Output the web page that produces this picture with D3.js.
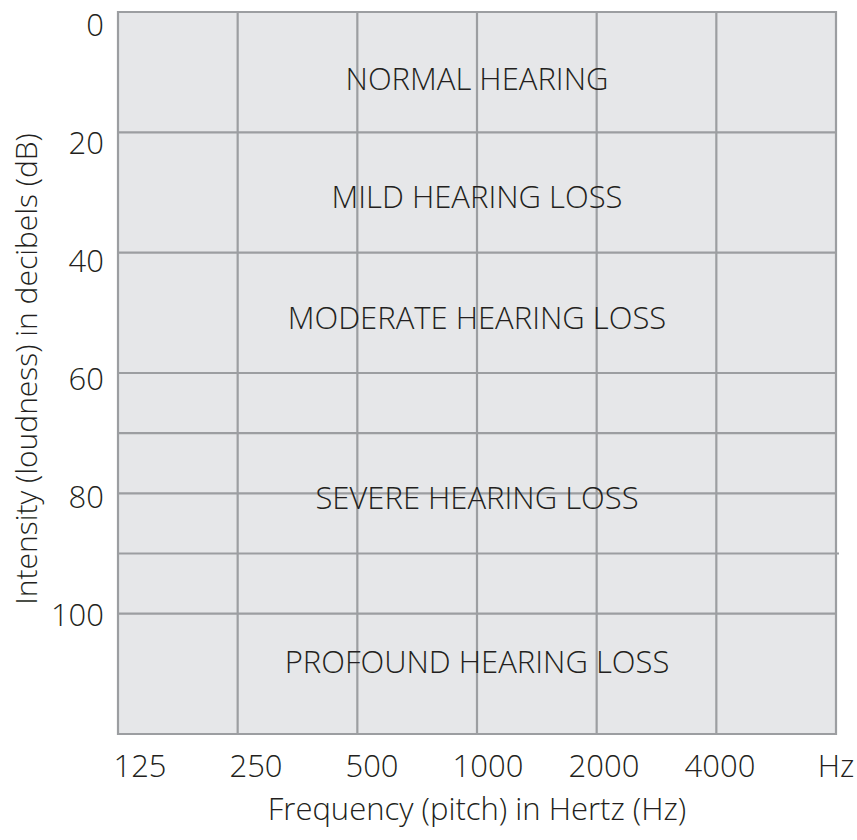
<!DOCTYPE html>
<html>
<head>
<meta charset="utf-8">
<script src="https://cdn.jsdelivr.net/npm/d3@7"></script>
<style>
  html, body { margin: 0; padding: 0; background: #ffffff; }
  svg { display: block; }
  text { font-family: "Open Sans", "Noto Sans", sans-serif; fill: #231f20; font-weight: 300; }
</style>
</head>
<body>
<svg id="chart" width="857" height="840"></svg>
<script>
// ---- data ----
const gridFrequencies = [125, 250, 500, 1000, 2000, 4000, 8000];
const freqTickLabels = ["125", "250", "500", "1000", "2000", "4000", "Hz"];
const gridDecibels = [0, 20, 40, 60, 70, 80, 90, 100, 120];
const dbTickValues = [0, 20, 40, 60, 80, 100];
const bandNames = ["NORMAL HEARING", "MILD HEARING LOSS", "MODERATE HEARING LOSS", "SEVERE HEARING LOSS", "PROFOUND HEARING LOSS"];
const bandLabelDb = [11, 30.6, 50.7, 80.6, 107.8];
const xTitle = "Frequency (pitch) in Hertz (Hz)";
const yTitle = "Intensity (loudness) in decibels (dB)";

// ---- layout ----
const plotLeft = 118, plotRight = 836, plotTop = 12, plotBottom = 734;
const svg = d3.select("#chart");

const x = d3.scaleLog().base(2).domain([125, 8000]).range([plotLeft, plotRight]);
const y = d3.scaleLinear().domain([0, 120]).range([plotTop, plotBottom]);
const xLabel = d3.scalePoint().domain(freqTickLabels).range([140, 836]);
const yLabel = d3.scaleLinear().domain([0, 100]).range([24, 614]);

const gridColor = "#9c9ea1";
const fontSize = 31;

// background
svg.append("rect")
  .attr("x", x(125)).attr("y", y(0))
  .attr("width", x(8000) - x(125)).attr("height", y(120) - y(0))
  .attr("fill", "#e6e7e9");

// horizontal gridlines
svg.append("g").selectAll("line").data(gridDecibels).join("line")
  .attr("x1", x(125))
  .attr("x2", d => d === 90 ? x(8000) + 3 : x(8000))
  .attr("y1", d => y(d)).attr("y2", d => y(d))
  .attr("stroke", gridColor).attr("stroke-width", 2.2);

// vertical gridlines
svg.append("g").selectAll("line").data(gridFrequencies).join("line")
  .attr("x1", d => x(d)).attr("x2", d => x(d))
  .attr("y1", y(0) - 1.1).attr("y2", y(120) + 1.1)
  .attr("stroke", gridColor).attr("stroke-width", 2.2);

// band labels
svg.append("g").selectAll("text").data(bandNames).join("text")
  .attr("x", (plotLeft + plotRight) / 2)
  .attr("y", (d, i) => y(bandLabelDb[i]))
  .attr("text-anchor", "middle")
  .attr("dominant-baseline", "central")
  .attr("font-size", fontSize)
  .text(d => d);

// y tick labels
svg.append("g").selectAll("text").data(dbTickValues).join("text")
  .attr("x", 104)
  .attr("y", d => yLabel(d))
  .attr("text-anchor", "end")
  .attr("dominant-baseline", "central")
  .attr("font-size", fontSize)
  .text(d => d);

// x tick labels
svg.append("g").selectAll("text").data(freqTickLabels).join("text")
  .attr("x", d => xLabel(d))
  .attr("y", 765)
  .attr("text-anchor", "middle")
  .attr("dominant-baseline", "central")
  .attr("font-size", fontSize)
  .text(d => d);

// axis titles
svg.append("text")
  .attr("x", (plotLeft + plotRight) / 2).attr("y", 808)
  .attr("text-anchor", "middle").attr("dominant-baseline", "central")
  .attr("font-size", fontSize)
  .text(xTitle);

svg.append("text")
  .attr("transform", `translate(25,${(plotTop + plotBottom) / 2 - 4}) rotate(-90)`)
  .attr("text-anchor", "middle").attr("dominant-baseline", "central")
  .attr("font-size", fontSize - 1)
  .text(yTitle);
</script>
</body>
</html>
